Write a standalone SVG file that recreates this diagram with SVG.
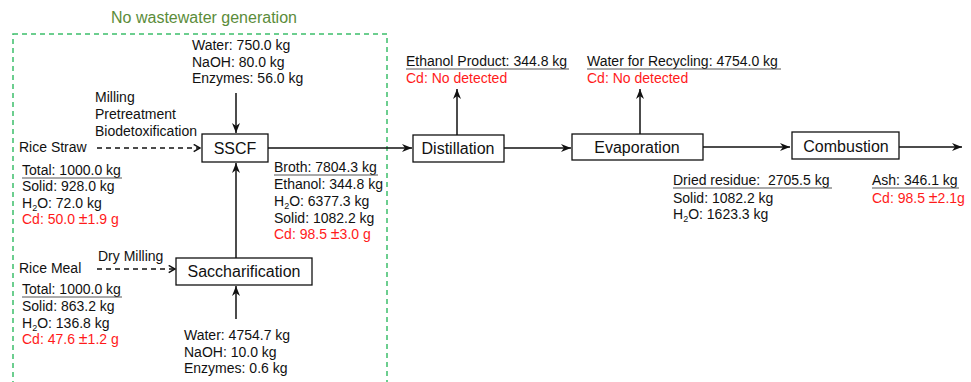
<svg xmlns="http://www.w3.org/2000/svg" width="971" height="382" viewBox="0 0 971 382">
<defs>
<style>
text{font-family:"Liberation Sans",Arial,sans-serif;font-size:14px;fill:#111}
.red{fill:#ff1a1a}
.pm{font-size:16px}
.lbl{font-size:16px;text-anchor:middle}
.title{font-size:16px;fill:#5b8c3a;text-anchor:middle}
.box{fill:#fff;stroke:#111;stroke-width:1.3}
.ln{stroke:#111;stroke-width:1.5;fill:none}
.dash{stroke:#111;stroke-width:1.4;fill:none;stroke-dasharray:5,4}
.ul{stroke:#555;stroke-width:1}
.sub{font-size:9px}
</style>
<marker id="ah" viewBox="0 0 10 8" refX="10" refY="4" markerWidth="10" markerHeight="8" markerUnits="userSpaceOnUse" orient="auto">
<path d="M0,0 L10,4 L0,8 L3,4 z" fill="#111"/>
</marker>
<marker id="oa" viewBox="0 0 10 10" refX="9" refY="5" markerWidth="9" markerHeight="9" markerUnits="userSpaceOnUse" orient="auto">
<path d="M2,1 L9,5 L2,9" fill="none" stroke="#111" stroke-width="1.6"/>
</marker>
</defs>

<g id="region">
<rect x="13" y="34" width="374" height="360" fill="none" stroke="#3dbf6b" stroke-width="1.5" stroke-dasharray="5,4"/>
<text class="title" x="204" y="23">No wastewater generation</text>
</g>

<g id="connectors">
<line class="ln" x1="236" y1="93" x2="236" y2="133" marker-end="url(#ah)"/>
<line class="dash" x1="97" y1="148" x2="200" y2="148" marker-end="url(#oa)"/>
<line class="dash" x1="97" y1="269" x2="175" y2="269" marker-end="url(#oa)"/>
<line class="ln" x1="236" y1="258" x2="236" y2="163" marker-end="url(#ah)"/>
<line class="ln" x1="236" y1="319" x2="236" y2="286" marker-end="url(#ah)"/>
<line class="ln" x1="268" y1="148" x2="412" y2="148" marker-end="url(#ah)"/>
<line class="ln" x1="457" y1="135" x2="457" y2="89" marker-end="url(#ah)"/>
<line class="ln" x1="504" y1="148" x2="571" y2="148" marker-end="url(#ah)"/>
<line class="ln" x1="640" y1="134" x2="640" y2="89" marker-end="url(#ah)"/>
<line class="ln" x1="703" y1="147" x2="790" y2="147" marker-end="url(#ah)"/>
<line class="ln" x1="899" y1="147" x2="962" y2="147" marker-end="url(#ah)"/>
</g>

<g id="sscf">
<rect class="box" x="202" y="134" width="66" height="28"/>
<text class="lbl" x="235" y="154">SSCF</text>
</g>
<g id="saccharification">
<rect class="box" x="176" y="258" width="136" height="27"/>
<text class="lbl" x="244" y="277">Saccharification</text>
</g>
<g id="distillation">
<rect class="box" x="413" y="135" width="91" height="27"/>
<text class="lbl" x="458" y="154">Distillation</text>
</g>
<g id="evaporation">
<rect class="box" x="572" y="134" width="131" height="26"/>
<text class="lbl" x="637" y="153">Evaporation</text>
</g>
<g id="combustion">
<rect class="box" x="792" y="132" width="107" height="27"/>
<text class="lbl" x="846" y="152">Combustion</text>
</g>

<g id="sscf-inputs">
<text x="192" y="50">Water: 750.0 kg</text>
<text x="192" y="67">NaOH: 80.0 kg</text>
<text x="192" y="83">Enzymes: 56.0 kg</text>
</g>
<g id="straw-steps">
<text x="95" y="102">Milling</text>
<text x="95" y="119">Pretreatment</text>
<text x="95" y="136">Biodetoxification</text>
</g>
<g id="rice-straw">
<text x="19" y="152">Rice Straw</text>
<text x="22" y="175">Total: 1000.0 kg</text>
<line class="ul" x1="22" y1="178" x2="122" y2="178"/>
<text x="22" y="191">Solid: 928.0 kg</text>
<text x="22" y="208">H<tspan class="sub" dy="2.5">2</tspan><tspan dy="-2.5">O: 72.0 kg</tspan></text>
<text class="red" x="22" y="224">Cd: 50.0 <tspan class="pm">±</tspan>1.9 g</text>
</g>
<g id="broth">
<text x="274" y="172">Broth: 7804.3 kg</text>
<line class="ul" x1="274" y1="175" x2="378" y2="175"/>
<text x="274" y="189">Ethanol: 344.8 kg</text>
<text x="274" y="206">H<tspan class="sub" dy="2.5">2</tspan><tspan dy="-2.5">O: 6377.3 kg</tspan></text>
<text x="274" y="223">Solid: 1082.2 kg</text>
<text class="red" x="274" y="239">Cd: 98.5 <tspan class="pm">±</tspan>3.0 g</text>
</g>
<g id="rice-meal">
<text x="19" y="273">Rice Meal</text>
<text x="98" y="261">Dry Milling</text>
<text x="22" y="294">Total: 1000.0 kg</text>
<line class="ul" x1="22" y1="297" x2="122" y2="297"/>
<text x="22" y="311">Solid: 863.2 kg</text>
<text x="22" y="328">H<tspan class="sub" dy="2.5">2</tspan><tspan dy="-2.5">O: 136.8 kg</tspan></text>
<text class="red" x="22" y="344">Cd: 47.6 <tspan class="pm">±</tspan>1.2 g</text>
</g>
<g id="sacch-inputs">
<text x="184" y="340">Water: 4754.7 kg</text>
<text x="184" y="357">NaOH: 10.0 kg</text>
<text x="184" y="373">Enzymes: 0.6 kg</text>
</g>
<g id="ethanol-product">
<text x="406" y="66">Ethanol Product: 344.8 kg</text>
<line class="ul" x1="406" y1="69" x2="569" y2="69"/>
<text class="red" x="406" y="83">Cd: No detected</text>
</g>
<g id="water-recycling">
<text x="587" y="66">Water for Recycling: 4754.0 kg</text>
<line class="ul" x1="587" y1="69" x2="781" y2="69"/>
<text class="red" x="587" y="83">Cd: No detected</text>
</g>
<g id="dried-residue">
<text x="673" y="185" style="white-space:pre">Dried residue:  2705.5 kg</text>
<line class="ul" x1="673" y1="188" x2="832" y2="188"/>
<text x="673" y="203">Solid: 1082.2 kg</text>
<text x="673" y="219">H<tspan class="sub" dy="2.5">2</tspan><tspan dy="-2.5">O: 1623.3 kg</tspan></text>
</g>
<g id="ash">
<text x="872" y="185">Ash: 346.1 kg</text>
<line class="ul" x1="872" y1="188" x2="959" y2="188"/>
<text class="red" x="872" y="203">Cd: 98.5 <tspan class="pm">±</tspan>2.1g</text>
</g>
</svg>
